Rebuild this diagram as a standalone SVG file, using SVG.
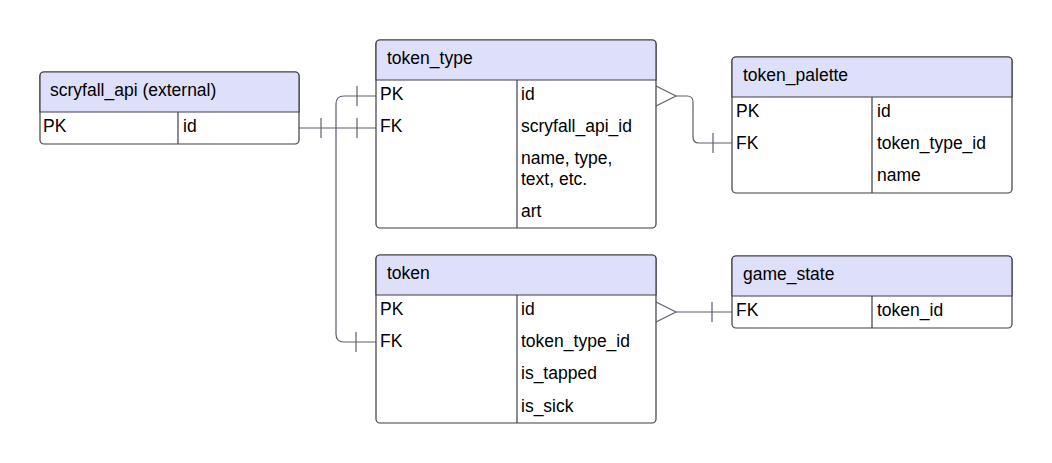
<svg xmlns="http://www.w3.org/2000/svg" width="1052" height="463" viewBox="0 0 1052 463">
<style>
.box{fill:#ffffff;stroke:#3f3f46;stroke-width:1.2}
.hdr{fill:#dedff9;stroke:#3f3f46;stroke-width:1.2}
.sep{stroke:#3f3f46;stroke-width:1.2;fill:none}
text{font-family:"Liberation Sans",Arial,sans-serif;font-size:17.5px;fill:#000}
.conn path,.conn line{stroke:#5d6070;stroke-width:1.2;fill:none}
</style>
<rect width="1052" height="463" fill="#ffffff"/>
<g class="conn" id="connectors">
<line x1="299" y1="128" x2="376" y2="128"/>
<line x1="321" y1="118" x2="321" y2="138"/>
<line x1="357" y1="118" x2="357" y2="138"/>
<path d="M376 96 H344 Q336 96 336 104 V334 Q336 342 344 342 H376"/>
<line x1="357" y1="86" x2="357" y2="106"/>
<line x1="356" y1="332" x2="356" y2="352"/>
<path d="M656 86 L676 96 L656 106"/>
<path d="M676 96 H687 Q693 96 693 102 V137 Q693 143 699 143 H732"/>
<line x1="713" y1="133" x2="713" y2="153"/>
<path d="M656 302 L676 312 L656 322"/>
<line x1="676" y1="312" x2="732" y2="312"/>
<line x1="712" y1="302" x2="712" y2="322"/>
</g>
<g id="scryfall_api">
<rect class="box" x="40" y="72" width="259" height="72" rx="4"/>
<path class="hdr" d="M40 112 V76 Q40 72 44 72 H295 Q299 72 299 76 V112 Z"/>
<line class="sep" x1="178" y1="112" x2="178" y2="144"/>
<text x="50" y="96">scryfall_api (external)</text>
<text x="43" y="132">PK</text>
<text x="183" y="132">id</text>
</g>
<g id="token_type">
<rect class="box" x="376" y="40" width="280" height="188" rx="4"/>
<path class="hdr" d="M376 80 V44 Q376 40 380 40 H652 Q656 40 656 44 V80 Z"/>
<line class="sep" x1="517" y1="80" x2="517" y2="228"/>
<text x="387" y="64">token_type</text>
<text x="380" y="100">PK</text>
<text x="521" y="100">id</text>
<text x="380" y="132">FK</text>
<text x="521" y="132">scryfall_api_id</text>
<text x="521" y="164">name, type,</text>
<text x="521" y="185">text, etc.</text>
<text x="521" y="217">art</text>
</g>
<g id="token_palette">
<rect class="box" x="732" y="57" width="280" height="136" rx="4"/>
<path class="hdr" d="M732 97 V61 Q732 57 736 57 H1008 Q1012 57 1012 61 V97 Z"/>
<line class="sep" x1="872" y1="97" x2="872" y2="193"/>
<text x="743" y="81">token_palette</text>
<text x="736" y="117">PK</text>
<text x="877" y="117">id</text>
<text x="736" y="149">FK</text>
<text x="877" y="149">token_type_id</text>
<text x="877" y="181">name</text>
</g>
<g id="token">
<rect class="box" x="376" y="255" width="280" height="168" rx="4"/>
<path class="hdr" d="M376 295 V259 Q376 255 380 255 H652 Q656 255 656 259 V295 Z"/>
<line class="sep" x1="517" y1="295" x2="517" y2="423"/>
<text x="387" y="279">token</text>
<text x="380" y="315">PK</text>
<text x="521" y="315">id</text>
<text x="380" y="347">FK</text>
<text x="521" y="347">token_type_id</text>
<text x="521" y="379">is_tapped</text>
<text x="521" y="412">is_sick</text>
</g>
<g id="game_state">
<rect class="box" x="732" y="256" width="280" height="72" rx="4"/>
<path class="hdr" d="M732 296 V260 Q732 256 736 256 H1008 Q1012 256 1012 260 V296 Z"/>
<line class="sep" x1="872" y1="296" x2="872" y2="328"/>
<text x="743" y="280">game_state</text>
<text x="736" y="316">FK</text>
<text x="877" y="316">token_id</text>
</g>
</svg>
